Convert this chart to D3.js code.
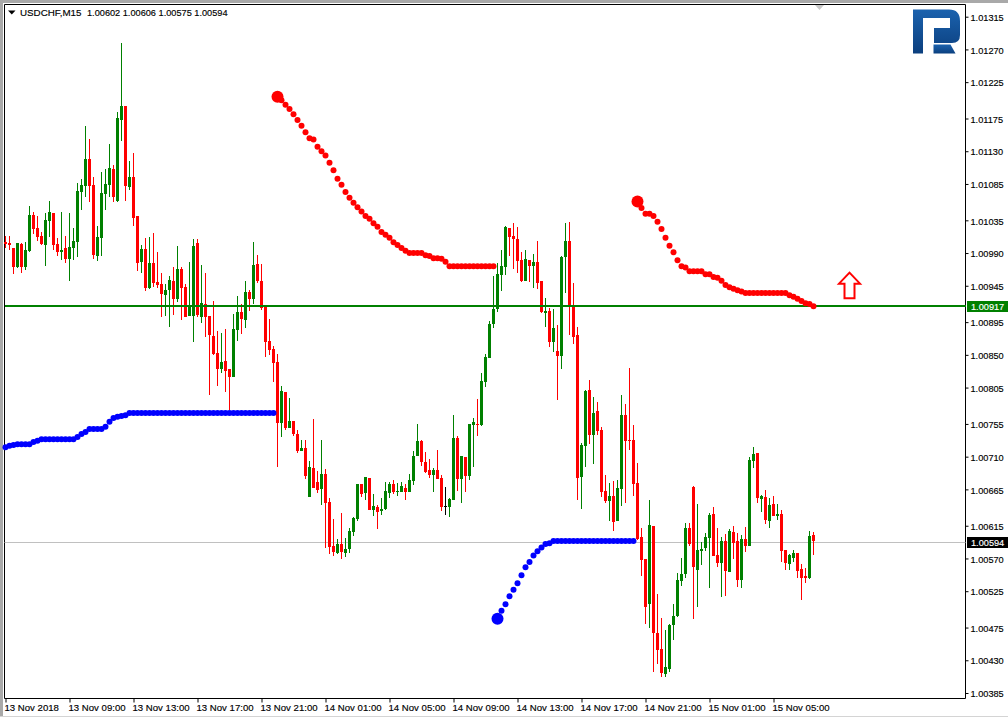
<!DOCTYPE html>
<html lang="en">
<head>
  <meta charset="utf-8" />
  <style>
    html, body { margin: 0; padding: 0; background: #fff; overflow: hidden; }
    text { font-family: "Liberation Sans", sans-serif; font-size: 9.2px; fill: #000; stroke: #000; stroke-width: 0.15px; }
    .time text { font-size: 9.6px; }
    .tag { fill: #fff; stroke: #fff; }
  </style>
</head>
<body>
<script src="https://d3js.org/d3.v7.min.js"></script>
<script>
var opens = [
  1.01005,1.01004,1.00997,1.00971,1.01002,1.00971,1.00993,1.01042,1.01024,1.01013,
  1.01001,1.01034,1.01045,1.01002,1.00991,1.00997,1.00982,1.00997,1.01005,1.01074,
  1.01082,1.01119,1.01084,1.00986,1.01011,1.01071,1.01084,1.01106,1.01062,1.01173,
  1.01192,1.01081,1.01095,1.01041,1.00978,1.00996,1.00942,1.00976,1.00950,1.00948,
  1.00932,1.00939,1.00952,1.00927,1.00968,1.00943,1.00904,1.00904,1.01004,1.00902,
  1.00920,1.00904,1.00876,1.00853,1.00831,1.00842,1.00831,1.00820,1.00884,1.00909,
  1.00898,1.00936,1.00927,1.00975,1.00952,1.00916,1.00869,1.00858,1.00840,1.00756,
  1.00799,1.00750,1.00759,1.00741,1.00718,1.00722,1.00655,1.00695,1.00675,1.00666,
  1.00686,1.00648,1.00587,1.00578,1.00590,1.00578,1.00583,1.00606,1.00624,1.00673,
  1.00660,1.00681,1.00637,1.00641,1.00635,1.00638,1.00660,1.00673,1.00662,1.00662,
  1.00667,1.00662,1.00677,1.00711,1.00732,1.00703,1.00692,1.00685,1.00692,1.00681,
  1.00642,1.00641,1.00650,1.00736,1.00679,1.00710,1.00684,1.00754,1.00755,1.00754,
  1.00813,1.00846,1.00893,1.00913,1.00960,1.00971,1.01024,1.01013,1.01009,1.00980,
  1.00952,1.00980,1.00972,1.00978,1.00952,1.00908,1.00910,1.00868,1.00855,1.00848,
  1.00985,1.01007,1.00917,1.00877,1.00682,1.00725,1.00802,1.00740,1.00773,1.00747,
  1.00663,1.00649,1.00656,1.00622,1.00666,1.00767,1.00733,1.00733,1.00674,1.00600,
  1.00569,1.00507,1.00615,1.00468,1.00446,1.00411,1.00418,1.00479,1.00491,1.00539,
  1.00549,1.00612,1.00668,1.00554,1.00580,1.00584,1.00598,1.00631,1.00575,1.00564,
  1.00594,1.00552,1.00606,1.00594,1.00540,1.00597,1.00587,1.00704,1.00715,1.00652,
  1.00655,1.00622,1.00645,1.00628,1.00631,1.00582,1.00562,1.00571,1.00578,1.00556,
  1.00546,1.00543,1.00602
];

var highs = [
  1.01013,1.01013,1.00997,1.01004,1.01004,1.01005,1.01055,1.01046,1.01041,1.01019,
  1.01045,1.01062,1.01045,1.01011,1.01046,1.01013,1.01045,1.01024,1.01086,1.01092,
  1.01165,1.01147,1.01095,1.01027,1.01101,1.01106,1.01140,1.01111,1.01184,1.01279,
  1.01192,1.01117,1.01128,1.01041,1.01001,1.01011,1.01012,1.01018,1.00991,1.00963,
  1.00948,1.00958,1.00971,1.01000,1.00971,1.00948,1.00978,1.01009,1.01009,1.00974,
  1.00963,1.00904,1.00924,1.00883,1.00880,1.00886,1.00831,1.00906,1.00931,1.00920,
  1.00952,1.00939,1.01005,1.00987,1.00975,1.00916,1.00899,1.00862,1.00851,1.00807,
  1.00799,1.00791,1.00759,1.00747,1.00733,1.00733,1.00704,1.00762,1.00690,1.00733,
  1.00693,1.00653,1.00624,1.00597,1.00633,1.00598,1.00612,1.00627,1.00673,1.00673,
  1.00682,1.00681,1.00659,1.00644,1.00653,1.00675,1.00675,1.00678,1.00674,1.00675,
  1.00673,1.00686,1.00718,1.00755,1.00733,1.00717,1.00707,1.00695,1.00719,1.00685,
  1.00668,1.00653,1.00767,1.00739,1.00711,1.00710,1.00755,1.00763,1.00789,1.00825,
  1.00851,1.00897,1.00958,1.00976,1.00994,1.01027,1.01024,1.01031,1.01026,1.00991,
  1.00994,1.00980,1.00989,1.01007,1.00952,1.00928,1.00914,1.00913,1.00891,1.00986,
  1.01031,1.01033,1.00949,1.00888,1.00729,1.00802,1.00815,1.00792,1.00785,1.00751,
  1.00685,1.00674,1.00677,1.00678,1.00795,1.00782,1.00832,1.00754,1.00701,1.00612,
  1.00569,1.00650,1.00615,1.00521,1.00488,1.00472,1.00480,1.00507,1.00550,1.00571,
  1.00619,1.00619,1.00670,1.00645,1.00593,1.00605,1.00633,1.00641,1.00612,1.00600,
  1.00604,1.00611,1.00615,1.00605,1.00602,1.00613,1.00710,1.00723,1.00715,1.00657,
  1.00664,1.00653,1.00656,1.00645,1.00637,1.00582,1.00576,1.00582,1.00578,1.00562,
  1.00557,1.00608,1.00606
];

var lows = [
  1.00997,1.00994,1.00961,1.00969,1.00963,1.00967,1.00991,1.01016,1.01007,1.01001,
  1.00972,1.01012,1.00994,1.00986,1.00980,1.00976,1.00952,1.00980,1.00985,1.01049,
  1.01067,1.01060,1.00982,1.00979,1.00986,1.01049,1.01067,1.01060,1.01060,1.01144,
  1.01062,1.01077,1.01027,1.00965,1.00963,1.00938,1.00940,1.00943,1.00942,1.00902,
  1.00904,1.00888,1.00905,1.00923,1.00898,1.00902,1.00904,1.00868,1.00902,1.00894,
  1.00875,1.00795,1.00850,1.00807,1.00825,1.00799,1.00774,1.00820,1.00869,1.00879,
  1.00887,1.00910,1.00920,1.00949,1.00912,1.00847,1.00850,1.00813,1.00696,1.00737,
  1.00747,1.00750,1.00739,1.00715,1.00718,1.00679,1.00655,1.00667,1.00660,1.00644,
  1.00585,1.00576,1.00574,1.00576,1.00569,1.00572,1.00578,1.00601,1.00622,1.00655,
  1.00650,1.00637,1.00628,1.00611,1.00630,1.00637,1.00653,1.00659,1.00656,1.00662,
  1.00650,1.00662,1.00671,1.00711,1.00697,1.00688,1.00681,1.00662,1.00679,1.00635,
  1.00630,1.00627,1.00650,1.00663,1.00646,1.00662,1.00678,1.00696,1.00739,1.00752,
  1.00806,1.00846,1.00887,1.00909,1.00938,1.00960,1.00986,1.00968,1.00963,1.00950,
  1.00952,1.00950,1.00942,1.00941,1.00908,1.00888,1.00861,1.00854,1.00788,1.00831,
  1.00935,1.00877,1.00865,1.00650,1.00638,1.00696,1.00728,1.00700,1.00740,1.00655,
  1.00646,1.00622,1.00608,1.00622,1.00642,1.00646,1.00719,1.00656,1.00595,1.00546,
  1.00480,1.00474,1.00414,1.00425,1.00407,1.00407,1.00414,1.00458,1.00490,1.00532,
  1.00543,1.00587,1.00487,1.00503,1.00561,1.00580,1.00530,1.00574,1.00558,1.00517,
  1.00518,1.00552,1.00569,1.00531,1.00530,1.00579,1.00587,1.00695,1.00646,1.00634,
  1.00618,1.00612,1.00628,1.00623,1.00565,1.00554,1.00554,1.00565,1.00543,1.00513,
  1.00536,1.00542,1.00575
];

var closes = [
  1.01002,1.01001,1.00971,1.01004,1.00971,1.00994,1.01042,1.01023,1.01012,1.01002,
  1.01036,1.01046,1.01001,1.00991,1.00994,1.00982,1.00998,1.01007,1.01075,1.01084,
  1.01119,1.01082,1.00987,1.01012,1.01073,1.01085,1.01107,1.01067,1.01176,1.01192,
  1.01082,1.01095,1.01038,1.00976,1.00996,1.00942,1.00976,1.00949,1.00946,1.00934,
  1.00939,1.00953,1.00927,1.00968,1.00942,1.00902,1.00917,1.01000,1.00905,1.00921,
  1.00902,1.00877,1.00851,1.00831,1.00840,1.00828,1.00820,1.00886,1.00909,1.00899,
  1.00936,1.00927,1.00974,1.00952,1.00914,1.00868,1.00857,1.00839,1.00756,1.00800,
  1.00750,1.00759,1.00741,1.00718,1.00722,1.00684,1.00696,1.00667,1.00664,1.00686,
  1.00646,1.00586,1.00579,1.00590,1.00579,1.00583,1.00608,1.00626,1.00673,1.00659,
  1.00682,1.00637,1.00642,1.00634,1.00638,1.00663,1.00673,1.00662,1.00663,1.00670,
  1.00662,1.00678,1.00711,1.00732,1.00703,1.00689,1.00685,1.00692,1.00679,1.00641,
  1.00642,1.00652,1.00736,1.00679,1.00711,1.00684,1.00755,1.00758,1.00754,1.00814,
  1.00847,1.00893,1.00913,1.00961,1.00972,1.01026,1.01012,1.01009,1.00979,1.00952,
  1.00982,1.00972,1.00978,1.00949,1.00909,1.00910,1.00868,1.00887,1.00848,1.00985,
  1.01007,1.00917,1.00875,1.00681,1.00726,1.00800,1.00740,1.00770,1.00745,1.00662,
  1.00649,1.00656,1.00620,1.00667,1.00767,1.00732,1.00732,1.00673,1.00597,1.00568,
  1.00503,1.00616,1.00468,1.00444,1.00413,1.00421,1.00479,1.00491,1.00540,1.00549,
  1.00612,1.00590,1.00558,1.00582,1.00583,1.00600,1.00630,1.00574,1.00564,1.00594,
  1.00553,1.00608,1.00591,1.00540,1.00597,1.00587,1.00706,1.00714,1.00653,1.00656,
  1.00623,1.00644,1.00628,1.00631,1.00580,1.00564,1.00575,1.00578,1.00553,1.00543,
  1.00543,1.00601,1.00594
];

// indicator dots, each list starts at the bar in its "start" variable
var blueOneStart = 0;
var blueOne = [
  1.00723,1.00725,1.00726,1.00727,1.00727,1.00727,1.00727,1.00730,1.00732,1.00734,
  1.00734,1.00734,1.00734,1.00734,1.00734,1.00734,1.00734,1.00734,1.00737,1.00741,
  1.00744,1.00748,1.00748,1.00748,1.00748,1.00751,1.00758,1.00763,1.00765,1.00766,
  1.00767,1.00770,1.00770,1.00770,1.00770,1.00770,1.00770,1.00770,1.00770,1.00770,
  1.00770,1.00770,1.00770,1.00770,1.00770,1.00770,1.00770,1.00770,1.00770,1.00770,
  1.00770,1.00770,1.00770,1.00770,1.00770,1.00770,1.00770,1.00770,1.00770,1.00770,
  1.00770,1.00770,1.00770,1.00770,1.00770,1.00770,1.00770,1.00770
];
var redOneStart = 68;
var redOne = [
  1.01205,1.01200,1.01194,1.01188,1.01181,1.01173,1.01165,1.01156,1.01148,1.01146,
  1.01136,1.01130,1.01124,1.01114,1.01104,1.01092,1.01084,1.01074,1.01066,1.01059,
  1.01053,1.01047,1.01041,1.01037,1.01031,1.01026,1.01019,1.01015,1.01011,1.01005,
  1.01001,1.00997,1.00993,1.00990,1.00990,1.00990,1.00990,1.00987,1.00986,1.00983,
  1.00983,1.00982,1.00978,1.00972,1.00972,1.00972,1.00972,1.00972,1.00972,1.00972,
  1.00972,1.00972,1.00972,1.00972,1.00972
];
var blueTwoStart = 123;
var blueTwo = [
  1.00487,1.00498,1.00507,1.00518,1.00527,1.00536,1.00547,1.00558,1.00565,1.00574,
  1.00580,1.00585,1.00590,1.00591,1.00594,1.00594,1.00594,1.00594,1.00594,1.00594,
  1.00594,1.00594,1.00594,1.00594,1.00594,1.00594,1.00594,1.00594,1.00594,1.00594,
  1.00594,1.00594,1.00594,1.00594,1.00594
];
var redTwoStart = 158;
var redTwo = [
  1.01061,1.01052,1.01044,1.01044,1.01041,1.01033,1.01023,1.01011,1.01000,1.00991,
  1.00980,1.00972,1.00970,1.00965,1.00965,1.00965,1.00965,1.00961,1.00961,1.00957,
  1.00956,1.00952,1.00946,1.00943,1.00941,1.00939,1.00937,1.00935,1.00935,1.00935,
  1.00935,1.00935,1.00935,1.00935,1.00935,1.00935,1.00935,1.00935,1.00932,1.00930,
  1.00927,1.00924,1.00921,1.00920,1.00917
];

var priceTicks = [1.01315,1.01270,1.01225,1.01175,1.01130,1.01085,1.01035,1.00990,1.00945,1.00895,
  1.00850,1.00805,1.00755,1.00710,1.00665,1.00615,1.00570,1.00525,1.00475,1.00430,1.00385];
var timeTicks = [0,16,32,48,64,80,96,112,128,144,160,176,192];
var timeLabels = ["13 Nov 2018","13 Nov 09:00","13 Nov 13:00","13 Nov 17:00","13 Nov 21:00","14 Nov 01:00",
  "14 Nov 05:00","14 Nov 09:00","14 Nov 13:00","14 Nov 17:00","14 Nov 21:00","15 Nov 01:00","15 Nov 05:00"];

var levelPrice = 1.00917;
var bidPrice = 1.00594;
var arrowBar = 211;
var arrowPrice = 1.00928;
var titleSymbol = "USDCHF,M15";
var titleValues = "1.00602 1.00606 1.00575 1.00594";

var width = 1008, height = 717;
var plotLeft = 4.5, plotTop = 4.5, plotRight = 965.5, plotBottom = 698.5;

var svg = d3.select("body").append("svg")
  .attr("width", width)
  .attr("height", height)
  .style("display", "block");

var x = d3.scaleLinear().domain([0, 202]).range([5.5, 813.5]);
var y = d3.scaleLinear().domain([1.00385, 1.01315]).range([693, 16.7]);

var defs = svg.append("defs");
var logoFill = defs.append("linearGradient")
  .attr("id", "logoFill")
  .attr("x1", 0).attr("y1", 0).attr("x2", 0).attr("y2", 1);
logoFill.append("stop").attr("offset", "0%").attr("stop-color", "#1b62ae");
logoFill.append("stop").attr("offset", "100%").attr("stop-color", "#0b3f7e");

// window frame
svg.append("rect").attr("x", 0).attr("y", 0).attr("width", width).attr("height", 3).attr("fill", "#a9a9a9");
svg.append("rect").attr("x", 0).attr("y", 0).attr("width", 3).attr("height", height).attr("fill", "#a9a9a9");
svg.append("rect").attr("x", 0).attr("y", 716).attr("width", width).attr("height", 1).attr("fill", "#d4d4d4");
svg.append("path")
  .attr("d", "M" + plotLeft + "," + plotBottom + "V" + plotTop + "H" + plotRight + "V" + plotBottom + "Z")
  .attr("fill", "none")
  .attr("stroke", "#000")
  .attr("stroke-width", 1);

// grey marker at the top
svg.append("path").attr("d", "M815,5H824L819.5,10Z").attr("fill", "#c8c8c8");

// bid line sits behind the candles
var bidRow = Math.round(y(bidPrice)) + 1;
svg.append("line")
  .attr("x1", plotLeft).attr("x2", plotRight)
  .attr("y1", bidRow + 0.5).attr("y2", bidRow + 0.5)
  .attr("stroke", "#c0c0c0");

var bars = d3.range(opens.length);

function candleColor(i) {
  if (opens[i] > closes[i]) return "#ff0000";
  if (opens[i] < closes[i]) return "#008000";
  return "#000000";
}

var candles = svg.append("g").attr("shape-rendering", "crispEdges")
  .selectAll("g")
  .data(bars)
  .enter()
  .append("g")
    .attr("fill", candleColor);

candles.append("rect")
  .attr("x", function(i){ return Math.floor(x(i)); })
  .attr("width", 1)
  .attr("y", function(i){ return Math.round(y(highs[i])); })
  .attr("height", function(i){ return Math.round(y(lows[i])) - Math.round(y(highs[i])); });

candles.append("rect")
  .attr("x", function(i){ return Math.floor(x(i)) - 1; })
  .attr("width", 3)
  .attr("y", function(i){ return Math.round(y(Math.max(opens[i], closes[i]))); })
  .attr("height", function(i){
    return Math.max(1, Math.round(y(Math.min(opens[i], closes[i]))) - Math.round(y(Math.max(opens[i], closes[i]))));
  });

// horizontal level
svg.append("rect")
  .attr("x", plotLeft).attr("width", plotRight - plotLeft)
  .attr("y", Math.round(y(levelPrice)) - 1).attr("height", 2)
  .attr("fill", "#008000")
  .attr("shape-rendering", "crispEdges");

function drawDots(values, start, color) {
  var group = svg.append("g").attr("fill", color);
  group.selectAll("circle")
    .data(values)
    .enter()
    .append("circle")
      .attr("cx", function(d, i){ return x(start + i); })
      .attr("cy", function(d){ return y(d); })
      .attr("r", function(d, i){ return (i === 0 && start > 0) ? 6 : 3; });
}

drawDots(blueOne, blueOneStart, "#0000ff");
drawDots(redOne, redOneStart, "#ff0000");
drawDots(blueTwo, blueTwoStart, "#0000ff");
drawDots(redTwo, redTwoStart, "#ff0000");

// hollow up arrow
var ax = x(arrowBar), ay = y(arrowPrice);
svg.append("path")
  .attr("d", "M" + (ax - 5) + "," + ay + "V" + (ay - 14.5) + "H" + (ax - 10.5) + "L" + ax + "," + (ay - 25.5)
    + "L" + (ax + 10.5) + "," + (ay - 14.5) + "H" + (ax + 5) + "V" + ay + "Z")
  .attr("fill", "#fff")
  .attr("stroke", "#ff0000")
  .attr("stroke-width", 2);

// logo
var logo = svg.append("g").attr("fill", "url(#logoFill)");
logo.append("path").attr("d", "M913,9.5H949Q960,9.5 960,21V35Q960,43 952,43H934V28H950V18H923V53.5H913Z");
logo.append("path").attr("d", "M933.5,44.5H950.5L955.5,53.5H933.5Z");

// axes
var yAxis = d3.axisRight(y)
  .tickValues(priceTicks)
  .tickSize(3)
  .tickPadding(2)
  .tickFormat(d3.format(".5f"));

var yAxisG = svg.append("g")
  .attr("transform", "translate(" + plotRight + ",0)")
  .attr("class", "price")
  .call(yAxis)
  .attr("font-family", null)
  .attr("font-size", null);
yAxisG.select(".domain").remove();
yAxisG.selectAll("text").attr("dy", "0.75em").attr("y", -3.2);

var xAxis = d3.axisBottom(x)
  .tickValues(timeTicks)
  .tickSize(4)
  .tickPadding(2)
  .tickFormat(function(d, i){ return timeLabels[i]; });

var xAxisG = svg.append("g")
  .attr("transform", "translate(0," + plotBottom + ")")
  .attr("class", "time")
  .call(xAxis)
  .attr("font-family", null)
  .attr("font-size", null);
xAxisG.select(".domain").remove();
xAxisG.selectAll("text").attr("text-anchor", "start").attr("dx", -1.5);

// price tags
function priceTag(price, row, color) {
  var tag = svg.append("g").attr("transform", "translate(0," + row + ")");
  tag.append("rect")
    .attr("x", 967).attr("y", -5)
    .attr("width", 41).attr("height", 11)
    .attr("fill", color);
  tag.append("text")
    .attr("class", "tag")
    .attr("x", 971).attr("y", 3.8)
    .text(d3.format(".5f")(price));
}
priceTag(levelPrice, Math.round(y(levelPrice)), "#008000");
priceTag(bidPrice, bidRow, "#000000");

// header
svg.append("path").attr("d", "M8,10.5H15.5L11.75,14.5Z").attr("fill", "#000");
svg.append("text").attr("x", 20).attr("y", 16).style("font-size", "9.8px").text(titleSymbol);
svg.append("text").attr("x", 87).attr("y", 16).text(titleValues);
</script>
</body>
</html>
